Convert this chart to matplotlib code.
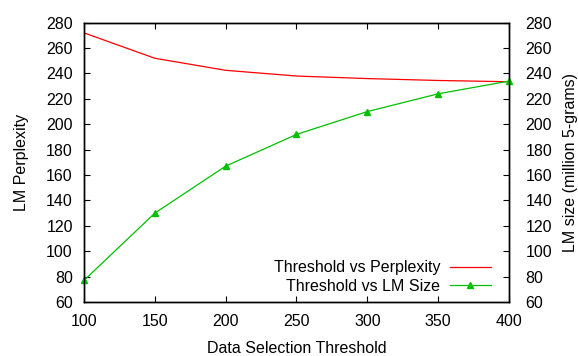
import matplotlib
matplotlib.use('Agg')
from matplotlib import pyplot as plt

# 数据
thresholds = [100, 150, 200, 250, 300, 350, 400]
perplexity = [272, 252, 242.5, 238, 236, 234.5, 233.5]
lm_size = [77, 130, 167, 192, 210, 224, 234]

plt.rcParams['font.family'] = ['Liberation Sans', 'DejaVu Sans']
plt.rcParams['font.size'] = 11.5

fig = plt.figure(figsize=(5.78, 3.56), dpi=100)
ax = fig.add_axes([0.1453, 0.1517, 0.7353, 0.7845])
ax2 = ax.twinx()

l1, = ax.plot(thresholds, perplexity, color='#ff0000', lw=0.9,
              label='Threshold vs Perplexity')
l2, = ax2.plot(thresholds, lm_size, color='#00c000', lw=0.9, marker='^',
               markersize=5, label='Threshold vs LM Size', clip_on=False)

for a in (ax, ax2):
    a.set_xlim(100, 400)
    a.set_ylim(60, 280)
    a.set_yticks(range(60, 281, 20))
    for s in a.spines.values():
        s.set_linewidth(1.0)
ax.set_xticks(range(100, 401, 50))
ax.tick_params(direction='in', top=True, length=4, width=0.8)
ax.tick_params(axis='x', pad=9)
ax.tick_params(axis='y', pad=8)
ax2.tick_params(direction='in', length=4, width=0.8, pad=12)

ax.set_xlabel('Data Selection Threshold', labelpad=8)
ax.set_ylabel('LM Perplexity', labelpad=12.5)
ax2.set_ylabel('LM size (million 5-grams)', labelpad=7.5)

ax.legend([l1, l2], [l1.get_label(), l2.get_label()], frameon=False,
          markerfirst=False, loc='lower right', bbox_to_anchor=(0.958, 0.03),
          handlelength=2.6, handletextpad=0.6, labelspacing=0.2,
          borderaxespad=0, borderpad=0, numpoints=1)

plt.savefig('out.png', dpi=100)
